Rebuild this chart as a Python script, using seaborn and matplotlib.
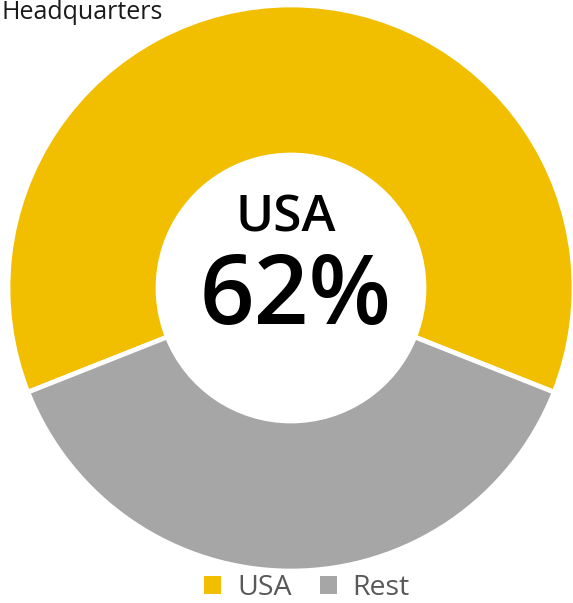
import matplotlib
matplotlib.use("Agg")
import matplotlib.pyplot as plt
from matplotlib.patches import Patch
import seaborn as sns

# Share of companies by headquarters location
categories = ["USA", "Rest"]
shares = [62, 38]
colors = ["#F2BE00", "#A6A6A6"]
title = "Headquarters"
center_label = "USA"
center_value = "62%"

sns.set_theme(style="white")
plt.rcParams["font.family"] = ["Open Sans", "DejaVu Sans"]

W, H = 573, 603
fig = plt.figure(figsize=(W / 100, H / 100), dpi=100)

# square axes around the donut (pixel geometry converted to figure fractions)
cx, cy, R = 291, 288, 283
ax = fig.add_axes([(cx - R) / W, (H - cy - R) / H, 2 * R / W, 2 * R / H])

gold_angle = shares[0] / sum(shares) * 360
start = 90 - gold_angle / 2
wedges, _ = ax.pie(
    shares,
    colors=colors,
    startangle=start,
    counterclock=True,
    radius=1.0,
    wedgeprops=dict(width=0.53, edgecolor="white", linewidth=3.4),
)
ax.set_xlim(-1, 1)
ax.set_ylim(-1, 1)
ax.set_aspect("auto")
ax.axis("off")

# centre text
fig.text(286 / W, 1 - 219 / H, center_label, ha="center", va="center",
         fontsize=37, color="black", fontweight="semibold")
fig.text(296 / W, 1 - 299 / H, center_value, ha="center", va="center",
         fontsize=69, color="black", fontweight="semibold")

# title
fig.text(2 / W, 1 - 19 / H, title, ha="left", va="baseline",
         fontsize=18, color="#1a1a1a")

handles = [Patch(facecolor=c, edgecolor="none") for c in colors]
leg = fig.legend(handles, categories, loc="center", bbox_to_anchor=(307 / W, 1 - 588 / H),
                 ncol=2, frameon=False, fontsize=20.5, handlelength=0.6, handleheight=0.6,
                 handletextpad=0.55, columnspacing=1.0, labelcolor="#595959",
                 borderpad=0.1)

fig.savefig("out.png", dpi=100)
